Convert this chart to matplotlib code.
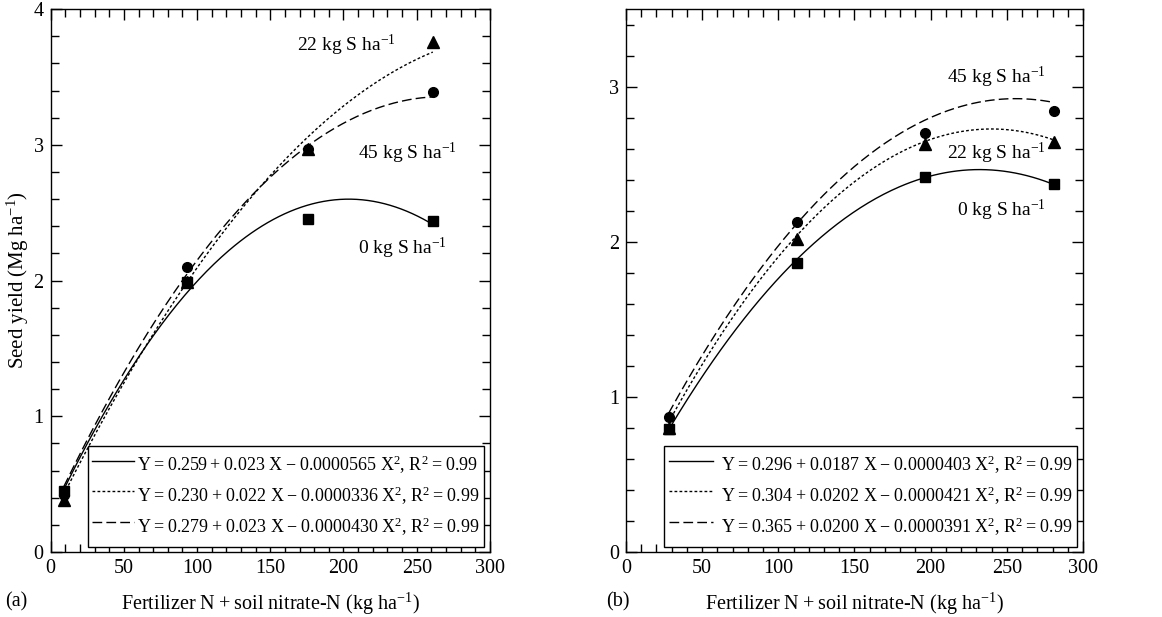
import numpy as np
import matplotlib
matplotlib.use("Agg")
import matplotlib.pyplot as plt
from matplotlib.ticker import MultipleLocator

plt.rcParams['font.family'] = ['Liberation Serif', 'DejaVu Serif']
plt.rcParams['mathtext.fontset'] = 'custom'
plt.rcParams['mathtext.rm'] = 'Liberation Serif'
plt.rcParams['mathtext.it'] = 'Liberation Serif:italic'
plt.rcParams['mathtext.bf'] = 'Liberation Serif:bold'

TS = "\u2009"  # thin space

# Panel (a)
n_a = [9, 93, 176, 261]
yield_a_0 = [0.45, 1.99, 2.45, 2.44]
yield_a_22 = [0.38, 1.99, 2.97, 3.76]
yield_a_45 = [0.42, 2.10, 2.97, 3.39]
coef_a_0 = [0.259, 0.023, -0.0000565]
coef_a_22 = [0.230, 0.022, -0.0000336]
coef_a_45 = [0.279, 0.023, -0.0000430]
terms_a = [("0.259", "0.023", "0.0000565"),
           ("0.230", "0.022", "0.0000336"),
           ("0.279", "0.023", "0.0000430")]

# Panel (b)
n_b = [28, 112, 196, 281]
yield_b_0 = [0.79, 1.86, 2.42, 2.37]
yield_b_22 = [0.80, 2.02, 2.63, 2.64]
yield_b_45 = [0.87, 2.13, 2.70, 2.84]
coef_b_0 = [0.296, 0.0187, -0.0000403]
coef_b_22 = [0.304, 0.0202, -0.0000421]
coef_b_45 = [0.365, 0.0200, -0.0000391]
terms_b = [("0.296", "0.0187", "0.0000403"),
           ("0.304", "0.0202", "0.0000421"),
           ("0.365", "0.0200", "0.0000391")]

r2 = "0.99"

S_LABELS = ["0 kg S ha$^{-1}$", "22 kg S ha$^{-1}$", "45 kg S ha$^{-1}$"]
LINESTYLES = ['-', (0, (2.0, 1.6)), (0, (7, 3))]
MARKERS = [('s', 7.5), ('^', 8), ('o', 7)]


def equation(a, b, c):
    return (f"Y{TS}={TS}{a}{TS}+{TS}{b} X{TS}\u2212{TS}{c} X$^{{2}}$, "
            f"R$^{{2}}${TS}={TS}{r2}")


def quad(coef, x):
    return coef[0] + coef[1] * x + coef[2] * x ** 2


def draw_panel(ax, n, yields, coefs, terms, ymax, label_pos, legend_opts):
    xx = np.linspace(min(n), max(n), 200)
    handles = []
    for c, ls in zip(coefs, LINESTYLES):
        h, = ax.plot(xx, quad(c, xx), color='black', linestyle=ls, linewidth=1.0)
        handles.append(h)
    for y, (m, ms) in zip(yields, MARKERS):
        ax.plot(n, y, linestyle='none', marker=m, markersize=ms, color='black',
                zorder=3)
    for txt, (tx, ty) in zip(S_LABELS, label_pos):
        ax.text(tx, ty, txt, fontsize=14, va='center', ha='left')

    ax.set_xlim(0, 300)
    ax.set_ylim(0, ymax)
    ax.xaxis.set_major_locator(MultipleLocator(50))
    ax.xaxis.set_minor_locator(MultipleLocator(10))
    ax.yaxis.set_major_locator(MultipleLocator(1))
    ax.yaxis.set_minor_locator(MultipleLocator(0.2))
    ax.tick_params(which='both', direction='in', top=True, right=True,
                   labelsize=14.5, width=1.0)
    ax.tick_params(which='major', length=8, pad=5)
    ax.tick_params(which='minor', length=6)
    for sp in ax.spines.values():
        sp.set_linewidth(1.0)
    ax.set_xlabel(f"Fertilizer N{TS}+{TS}soil nitrate-N (kg ha$^{{-1}}$)",
                  fontsize=14.5, labelpad=9)

    labels = [equation(*t) for t in terms]
    leg = ax.legend(handles, labels, loc='lower right', fontsize=13,
                    frameon=True, fancybox=False, edgecolor='black',
                    framealpha=1, borderpad=0.25, labelspacing=0.0,
                    handleheight=2.25, borderaxespad=0, **legend_opts)
    leg.get_frame().set_linewidth(1.0)
    return ax


fig = plt.figure(figsize=(11.62, 6.17), dpi=100)
ax_a = fig.add_axes([0.0436, 0.1053, 0.378, 0.880])
ax_b = fig.add_axes([0.5387, 0.1053, 0.3933, 0.880])

draw_panel(ax_a, n_a, [yield_a_0, yield_a_22, yield_a_45],
           [coef_a_0, coef_a_22, coef_a_45], terms_a, 4,
           [(210, 2.24), (168, 3.73), (210, 2.94)],
           dict(bbox_to_anchor=(0.986, 0.009), handlelength=2.3,
                handletextpad=0.15))
draw_panel(ax_b, n_b, [yield_b_0, yield_b_22, yield_b_45],
           [coef_b_0, coef_b_22, coef_b_45], terms_b, 3.5,
           [(217, 2.20), (211, 2.57), (211, 3.06)],
           dict(bbox_to_anchor=(0.987, 0.009), handlelength=2.45,
                handletextpad=0.45))

ax_a.set_ylabel("Seed yield (Mg ha$^{-1}$)", fontsize=15, labelpad=2)

fig.text(0.004, 0.024, "(a)", fontsize=14.5, ha='left', va='center')
fig.text(0.522, 0.024, "(b)", fontsize=14.5, ha='left', va='center')

fig.savefig("out.png", dpi=100)
